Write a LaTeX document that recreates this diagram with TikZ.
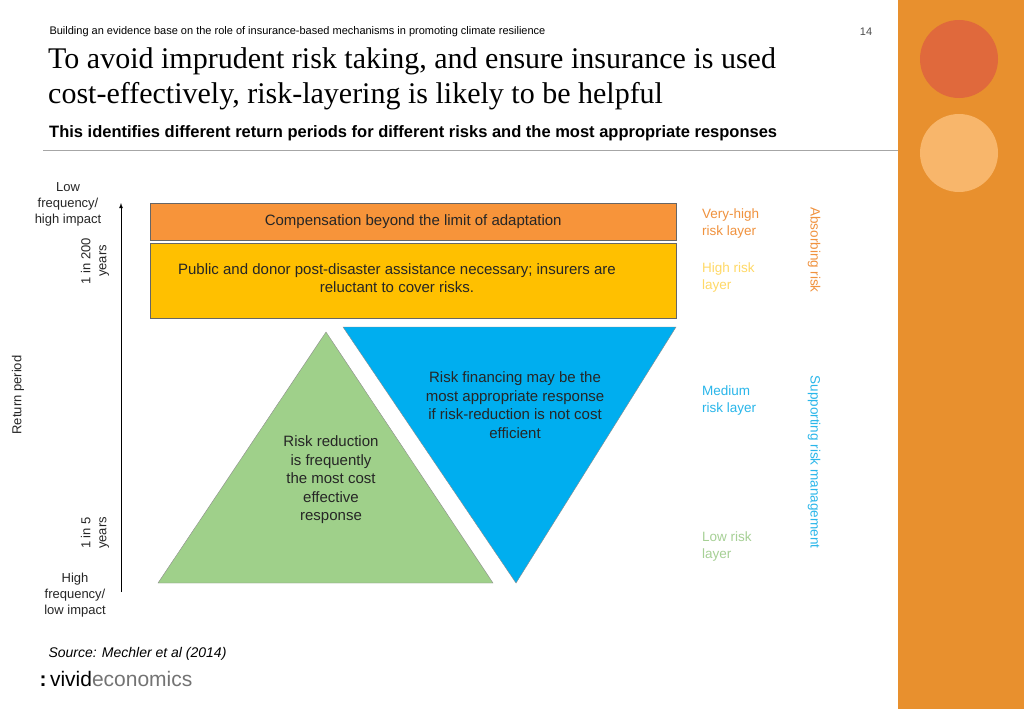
\documentclass[tikz,border=0pt]{standalone}
\usepackage{fontspec}
\setmainfont{Liberation Sans}
\newfontfamily\serif{Liberation Serif}
\definecolor{panel}{HTML}{E8902E}
\definecolor{circA}{HTML}{E0693C}
\definecolor{circB}{HTML}{F8B66B}
\definecolor{barO}{HTML}{F7943A}
\definecolor{barY}{HTML}{FFC000}
\definecolor{triG}{HTML}{9FD08A}
\definecolor{triB}{HTML}{00AEEF}
\definecolor{lblO}{HTML}{F0923E}
\definecolor{lblY}{HTML}{FFD966}
\definecolor{lblB}{HTML}{29B6EA}
\definecolor{lblG}{HTML}{A6D095}
\tikzset{
 txt/.style={font=\fontsize{15}{18.5}\selectfont, align=center, text=black!85},
 side/.style={font=\fontsize{13.5}{17}\selectfont, align=left, anchor=north west, inner sep=0},
 ax/.style={font=\fontsize{13}{16}\selectfont, align=center, text=black!85},
}
\begin{document}
\begin{tikzpicture}[x=1pt,y=-1pt]
\useasboundingbox (0,0) rectangle (1024,709);
\fill[white] (0,0) rectangle (1024,709);
\fill[panel] (898,0) rectangle (1024,709);
\fill[circA] (959,59) circle (39);
\fill[circB] (959,153) circle (39);
\node[anchor=west,font=\fontsize{11}{13}\selectfont] (hdr) at (46,32) {Building an evidence base on the role of insurance-based mechanisms in promoting climate resilience};
\node[font=\fontsize{11}{13}\selectfont,text=black!70] (pg) at (866,32) {14};
\node[anchor=north west,align=left,inner sep=0,font=\serif\fontsize{30}{35}\selectfont] (title) at (48,47) {To avoid imprudent risk taking, and ensure insurance is used\\cost-effectively, risk-layering is likely to be helpful};
\node[anchor=west,inner sep=0,font=\bfseries\fontsize{16.5}{19}\selectfont] (sub) at (49,133) {This identifies different return periods for different risks and the most appropriate responses};
\draw[black!35] (43,150) -- (898,150);
% shapes
\node[draw=black!60,fill=barO,minimum width=526,minimum height=37,inner sep=0,anchor=north west] (bo) at (150,203) {};
\node[txt] at (bo) {Compensation beyond the limit of adaptation};
\node[draw=black!60,fill=barY,minimum width=526,minimum height=75,inner sep=0,anchor=north west] (by) at (150,243) {};
\node[txt] at (397,278) {Public and donor post-disaster assistance necessary; insurers are\\reluctant to cover risks.};
\draw[fill=triG,draw=black!45] (326,332) -- (493,583) -- (158,583) -- cycle;
\node[txt] (gt) at (331,480) {Risk reduction\\is frequently\\the most cost\\effective\\response};
\draw[fill=triB,draw=black!45] (343,327) -- (676,327) -- (516,583) -- cycle;
\node[txt] (bt) at (515,405) {Risk financing may be the\\most appropriate response\\if risk-reduction is not cost\\efficient};
% axis
\coordinate (a0) at (121,592);
\coordinate (a1) at (121,203);
\draw[thick,-latex] (a0) -- (a1);
\node[ax] (lo) at (68,204) {Low\\frequency/\\high impact};
\node[ax] (hi) at (75,595) {High\\frequency/\\low impact};
\node[ax,rotate=90] (rp) at (18,395) {Return period};
\node[ax,rotate=90] (y200) at (95,261) {1 in 200\\years};
\node[ax,rotate=90] (y5) at (95,533) {1 in 5\\years};
% right labels
\node[side,text=lblO] (vh) at (702,209) {Very-high\\risk layer};
\node[side,text=lblY] (hr) at (702,263) {High risk\\layer};
\node[side,text=lblB] (md) at (702,386) {Medium\\risk layer};
\node[side,text=lblG] (lw) at (702,532) {Low risk\\layer};
\node[font=\fontsize{13.5}{16}\selectfont,text=lblO,rotate=-90] (ab) at (814,250) {Absorbing risk};
\node[font=\fontsize{13.5}{16}\selectfont,text=lblB,rotate=-90] (sr) at (814,462) {Supporting risk management};
% footer
\node[anchor=west,font=\itshape\fontsize{14}{16}\selectfont] (src) at (45,654) {Source: Mechler et al (2014)};
\node[anchor=west,font=\fontsize{21}{24}\selectfont] (logo) at (36,679) {\textbf{:}\,vivid\textcolor{black!55}{economics}};
\end{tikzpicture}
\end{document}
